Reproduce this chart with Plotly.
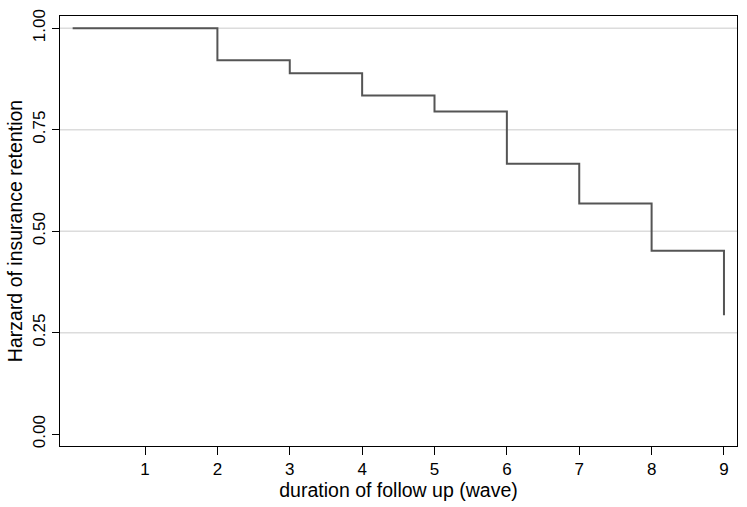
import plotly.graph_objects as go

# Data
times = [0, 2, 3, 4, 5, 6, 7, 8, 9]
retention = [1.0, 0.921, 0.889, 0.834, 0.795, 0.666, 0.568, 0.452, 0.293]
x_ticks = [1, 2, 3, 4, 5, 6, 7, 8, 9]
y_ticks = [0.0, 0.25, 0.5, 0.75, 1.0]
y_tick_labels = ["0.00", "0.25", "0.50", "0.75", "1.00"]
grid_values = [0.25, 0.5, 0.75, 1.0]

FONT = "Liberation Sans, Arial, sans-serif"

fig = go.Figure()
fig.add_trace(go.Scatter(
    x=times, y=retention, mode="lines", line_shape="hv",
    line=dict(color="#555555", width=2), showlegend=False, hoverinfo="skip",
))

shapes = []
for g in grid_values:
    shapes.append(dict(type="line", xref="paper", yref="y", x0=0, x1=1, y0=g, y1=g,
                       line=dict(color="#dcdcdc", width=1.5), layer="below"))

fig.update_layout(
    width=747, height=507,
    margin=dict(l=60, r=10, t=16, b=61),
    paper_bgcolor="white", plot_bgcolor="white",
    font=dict(family=FONT, size=17, color="black"),
    shapes=shapes,
    xaxis=dict(
        range=[-0.175, 9.18], tickvals=x_ticks, ticktext=[str(v) for v in x_ticks],
        showgrid=False, zeroline=False, showline=True, linecolor="black", linewidth=1,
        mirror=True, ticks="outside", ticklen=8, tickcolor="black", automargin=False,
        tickfont=dict(size=17),
        title=dict(text="duration of follow up (wave)", standoff=2, font=dict(size=19.5)),
    ),
    yaxis=dict(
        range=[-0.029, 1.03], tickvals=y_ticks, ticktext=y_tick_labels, tickangle=-90,
        showgrid=False, zeroline=False, showline=True, linecolor="black", linewidth=1,
        mirror=True, ticks="outside", ticklen=7, tickcolor="black", automargin=False,
        tickfont=dict(size=17),
        title=dict(text="Harzard of insurance retention", standoff=2, font=dict(size=19.5)),
    ),
)

fig.write_html("out.html", config={"displayModeBar": False},
               post_script="document.body.style.margin='0';")
